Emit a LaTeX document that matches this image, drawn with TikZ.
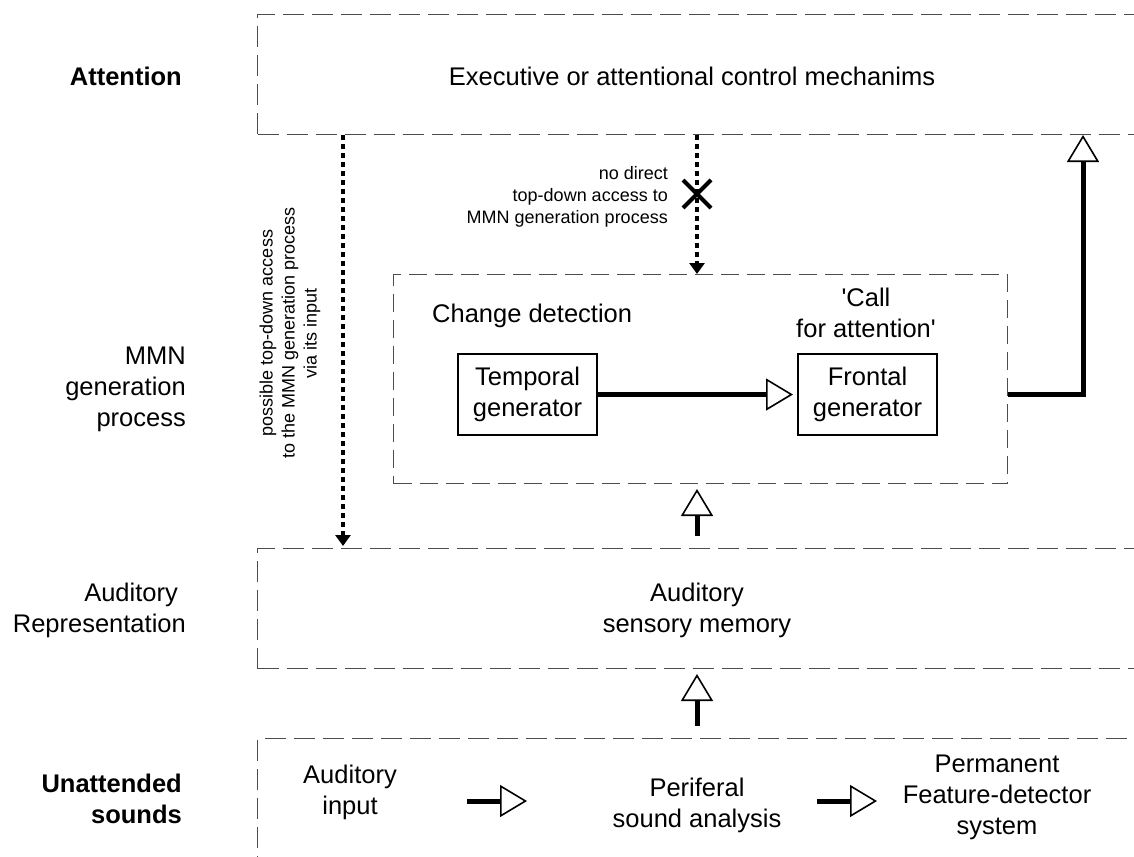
\documentclass[tikz,border=0pt]{standalone}
\usepackage{fontspec}
\setmainfont{Liberation Sans}
\usetikzlibrary{arrows.meta,shapes.misc,calc}
\newcommand\mainsz{\fontsize{25.5pt}{31pt}\selectfont}
\newcommand\smallsz{\fontsize{18pt}{22pt}\selectfont}
\begin{document}
\begin{tikzpicture}[x=1pt,y=-1pt,
  bigbox/.style={draw=black!70, line width=1pt, dash pattern=on 21pt off 8pt, rectangle, anchor=north west, inner sep=0pt, minimum width=920pt},
  innerbox/.style={draw=black!70, line width=1pt, dash pattern=on 18pt off 8pt, rectangle, anchor=north west, inner sep=0pt},
  genbox/.style={draw, line width=2pt, rectangle, anchor=north west, minimum width=139pt, minimum height=81pt, inner sep=0pt, align=center, font=\mainsz},
  txt/.style={inner sep=0pt, font=\mainsz, align=center},
  smalltxt/.style={inner sep=0pt, font=\smallsz},
  fatarrow/.style={line width=5pt, -{Triangle[open, length=27pt, width=32pt, line width=1.6pt]}},
  dotarrow/.style={line width=4pt, dash pattern=on 5pt off 4pt, -{Triangle[length=11pt, width=15pt]}}
]
\useasboundingbox (0,0) rectangle (1134,856);
\clip (0,0) rectangle (1134,856);

% column coordinates
\coordinate (col) at (697,0);
\coordinate (rcol) at (1083,0);

% big dashed boxes (open to the right)
\node[bigbox, minimum height=120pt] (attn) at (257,14) {};
\node[bigbox, minimum height=120pt] (sens) at (257,548) {};
\node[bigbox, minimum height=160pt] (bot) at (257,738) {};

% inner dashed box
\node[innerbox, minimum width=614pt, minimum height=209pt] (inner) at (393,274) {};

% left labels
\node[txt, anchor=east, font=\mainsz\bfseries] (lattn) at (182,76) {Attention};
\node[txt, anchor=east, align=right] (lmmn) at (186,389) {MMN\\generation\\process};
\node[txt, anchor=east, align=right] (lrep) at (186,610) {Auditory\kern8pt\\Representation};
\node[txt, anchor=east, align=right, font=\mainsz\bfseries] (lsnd) at (182,799) {Unattended\\sounds};

% box texts
\node[txt] (exec) at (692,76) {Executive or attentional control mechanims};
\node[txt] (memtxt) at (697,610) {Auditory\\sensory memory};
\node[txt, anchor=west] (chg) at (432,316) {Change detection};
\node[txt] (call) at (866,313) {\textquotesingle Call\\for attention\textquotesingle};

% generators
\node[genbox] (temp) at (457,353) {Temporal\\generator};
\node[genbox] (front) at (797,353) {Frontal\\generator};

% bottom row
\node[txt] (audin) at (350,792) {Auditory\\input};
\node[txt] (periph) at (697,805) {Periferal\\sound analysis};
\node[txt] (perm) at (997,797) {Permanent\\Feature-detector\\system};
\coordinate (b1s) at (467,801);
\coordinate (b1e) at (527,801);
\coordinate (b2s) at (817,801);
\coordinate (b2e) at (877,801);
\draw[fatarrow] (b1s) -- (b1e);
\draw[fatarrow] (b2s) -- (b2e);

% solid arrows
\draw[fatarrow, shorten >=4pt] (temp.east) -- (front.west);
\draw[fatarrow] (inner.east |- front.east) -| (attn.south -| rcol);
\draw[fatarrow, shorten <=12pt, shorten >=5pt] (sens.north -| col) -- (inner.south -| col);
\draw[fatarrow, shorten <=12pt, shorten >=5pt] (bot.north -| col) -- (sens.south -| col);

% dotted arrows
\draw[dotarrow, shorten >=2pt] ([xshift=86pt]attn.south west) -- ([xshift=86pt]sens.north west);
\draw[dotarrow] (attn.south -| col) -- (inner.north -| col);
\node[draw, cross out, line width=4pt, minimum size=24pt, inner sep=0pt] (xmark) at (697,194) {};

% annotations
\node[smalltxt, align=right, anchor=east] (nodirect) at (668,197) {no direct\\top-down access to\\MMN generation process};
\node[smalltxt, align=center, rotate=90] (viainp) at (290,333) {possible top-down access\\to the MMN generation process\\via its input};
\end{tikzpicture}
\end{document}
